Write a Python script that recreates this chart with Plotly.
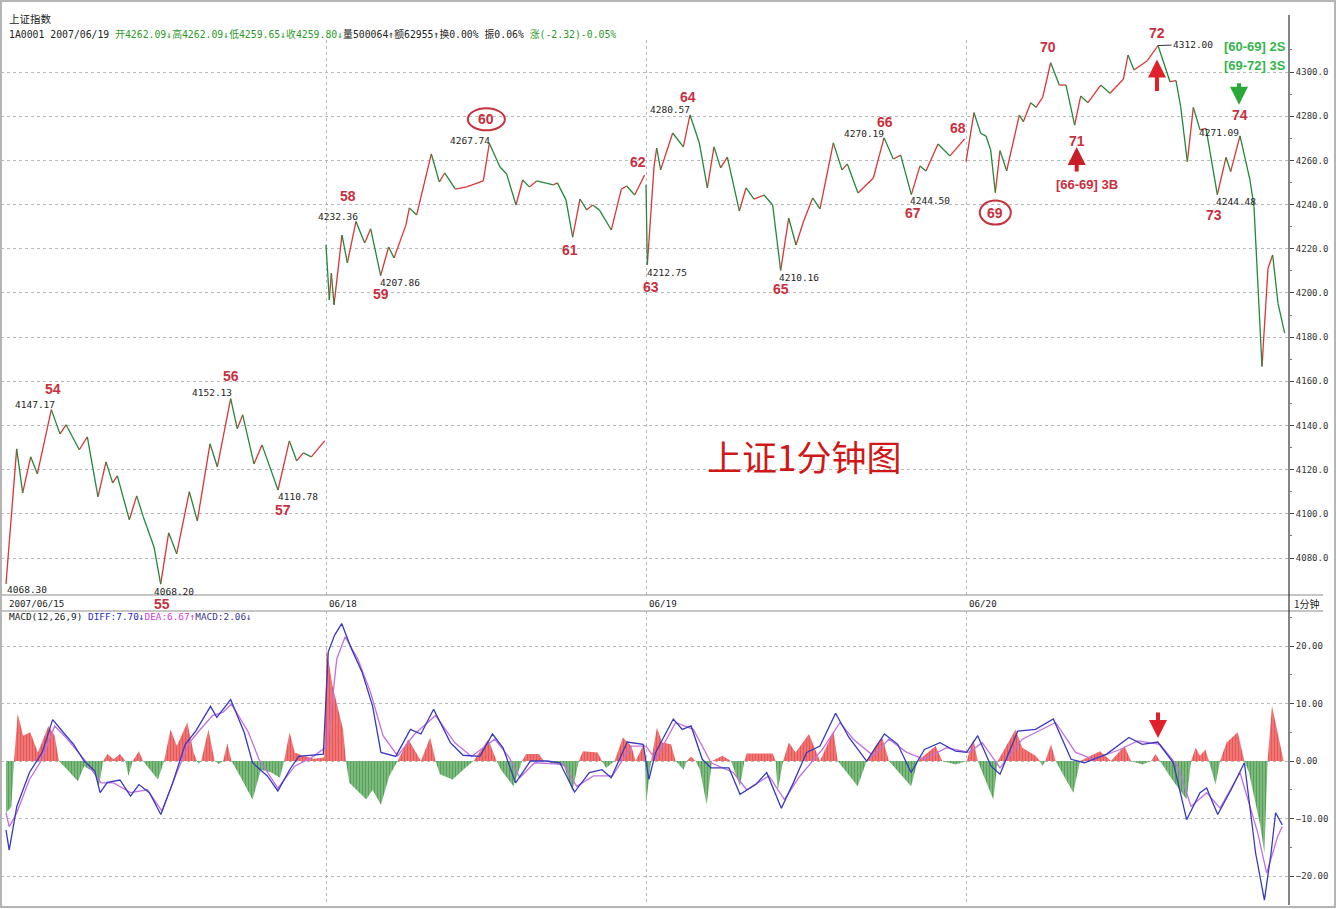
import plotly.graph_objects as go

# ---------------- data ----------------
day_labels = ["2007/06/15", "06/18", "06/19", "06/20"]
day_start_minute = [0, 240, 480, 720]

# 1-minute close, sampled at turning points (minute index across the 4 sessions)
m_0615 = [0, 8, 12.5, 18.5, 23.5, 34, 40.5, 45, 55, 61, 69, 75, 80, 83.5, 92.5, 98, 103, 111, 116, 122,
          128, 137.5, 143.5, 153, 158.5, 168.5, 173.5, 177.5, 186, 192, 204, 212.5, 218, 223, 229, 239]
p_0615 = [4068.30, 4129.4, 4109.5, 4125.8, 4118.1, 4147.17, 4136.2, 4140.3, 4129.0, 4134.8, 4107.7, 4123.5,
          4114.0, 4117.2, 4097.3, 4108.1, 4098.6, 4085.0, 4068.20, 4091.4, 4081.9, 4110.0, 4096.8, 4131.7,
          4121.3, 4152.13, 4138.5, 4144.8, 4122.6, 4131.2, 4110.78, 4133.0, 4124.0, 4127.6, 4125.8, 4133.0]

m_0618 = [240, 242.5, 244, 246, 252, 256, 262.5, 269, 273.5, 281, 287, 291, 300, 302.5, 308, 319, 325, 329,
          337, 345.5, 358, 362.5, 370.5, 375.5, 382.5, 387.5, 392.5, 398, 410.5, 413.5, 420, 425, 430.5,
          435.5, 440, 445, 454, 461.5, 465.5, 471.5, 479]
p_0618 = [4221.7, 4196.8, 4209.0, 4194.6, 4226.2, 4213.6, 4232.36, 4222.6, 4229.0, 4207.86, 4220.8, 4215.8,
          4230.8, 4238.5, 4235.3, 4262.9, 4250.2, 4254.3, 4247.0, 4248.0, 4250.7, 4267.74, 4257.0, 4253.8,
          4239.8, 4251.1, 4248.0, 4250.7, 4248.9, 4249.8, 4242.1, 4225.3, 4242.5, 4237.6, 4239.8, 4237.6,
          4228.5, 4247.0, 4248.4, 4244.3, 4253.4]

m_0619 = [480, 481, 486, 488, 491, 500, 508, 513, 520, 526, 531, 536, 541, 550, 555, 561, 568.5, 575, 581,
          587, 592.5, 598, 605, 610.5, 620.5, 627, 631, 639, 650.5, 658.5, 665.5, 671, 679, 685.5, 690, 699,
          708, 719]
p_0619 = [4249.0, 4212.75, 4257.0, 4265.6, 4255.7, 4272.4, 4266.1, 4280.57, 4267.9, 4247.5, 4266.1, 4256.6,
          4261.5, 4237.1, 4247.5, 4242.5, 4244.3, 4239.8, 4210.16, 4233.9, 4221.7, 4232.1, 4243.0, 4238.0,
          4267.9, 4255.7, 4258.4, 4245.2, 4252.0, 4270.19, 4260.6, 4262.4, 4244.50, 4257.5, 4255.2, 4267.4,
          4262.0, 4269.7]

m_0620 = [720, 726, 731, 735, 738.5, 742, 745.5, 750.5, 760, 763, 768.5, 772.5, 777.5, 783.5, 790, 795,
          801.5, 806, 811.5, 821, 828, 838, 841.5, 846, 856, 864, 873, 877.5, 881, 886, 890.5, 895.5, 900,
          908.5, 915, 918.5, 925.5, 933, 936, 942, 946.5, 950, 954, 959]
p_0620 = [4259.4, 4281.6, 4272.3, 4271.0, 4264.7, 4245.4, 4264.4, 4255.3, 4280.5, 4277.5, 4286.1, 4284.0,
          4288.5, 4304.2, 4294.1, 4294.1, 4276.0, 4289.1, 4286.1, 4294.1, 4290.4, 4296.7, 4307.7, 4300.9,
          4305.1, 4312.00, 4295.6, 4296.1, 4284.3, 4259.4, 4284.0, 4273.8, 4274.5, 4244.48, 4261.4, 4254.9,
          4271.09, 4251.1, 4239.0, 4166.7, 4211.2, 4217.2, 4195.3, 4181.8]

# MACD(12,26,9) histogram
hist_m = [0, 4, 6, 8.8, 12.9, 18.2, 23.9, 31.8, 36.5, 39.7, 46, 53.9, 58.6, 66.5, 69.7, 72.9, 76, 80.7, 85.5,
          89.6, 91.8, 95, 99.7, 102.8, 113.9, 118.6, 123.4, 128.1, 136, 140.7, 143.2, 144.5, 146.4, 151.8,
          156.5, 159.7, 162.8, 166, 169.1, 175.5, 184.9, 191.2, 199.1, 205.4, 208.6, 212.7, 216.5, 222.8,
          230.7, 238.6, 240.5, 244.9, 248, 252.8, 255, 257.5, 270.2, 274.9, 281.2, 287.5, 293.8, 301.7,
          311.2, 318.1, 322.2, 325.4, 334.9, 345.9, 350.7, 361.7, 368, 371.2, 380.6, 387, 390.1, 399.6,
          403.4, 418.5, 424.8, 429.6, 432.7, 443.8, 447, 450.1, 456.4, 462.7, 469, 472.2, 478.5, 479.2,
          480, 483.8, 488.2, 492.2, 498.8, 502.2, 508.2, 510.5, 513.8, 517.2, 520.5, 525.5, 529.5, 537.2,
          543.8, 550.5, 553.8, 555.5, 575, 577.2, 578.8, 582.8, 587.2, 592.2, 602.2, 610.5, 620.5, 623.8,
          638.8, 645.5, 652.2, 657.2, 662.2, 678.8, 683.8, 697.2, 702.2, 712.2, 720.5, 725.5, 728.8, 740.5,
          743.8, 757.2, 762.2, 772.2, 775.5, 777.2, 779.5, 783.8, 787.2, 800.5, 805.5, 820.5, 828.8, 838.8,
          843.8, 852.2, 858.8, 862.2, 865.5, 875.5, 885.5, 888.8, 892.2, 895.5, 899.5, 902.2, 907.2, 910.5,
          915.5, 923.8, 928.8, 932.2, 940.5, 943.8, 946.2, 949.5, 955.5, 958.2]
hist_v = [-9, -8, 0, 8.2, 4.4, 5, 1.5, 6.1, 4.4, 0, -1.5, -3.5, -0.9, -2, -4.4, 0, 1.2, 0.3, 1.2,
          0, -2.6, 0, 1.7, 0, -3.2, 0, 5.5, 2.6, 6.7, 1.5, 0, -0.5, 0, 5.5,
          0, -0.5, 0, 3.1, 0, -2.6, -6.7, -1.5, -2, -2.9, 0, 5, 1.5, 0.9,
          0.4, 0.6, 19.5, 13.1, 10.2, 5.5, 0, -3.8, -6.7, -5, -7.6, -2.6, 0, 3.8,
          0, 4.1, 0, -2.3, -3.2, -0.9, 0, 3.8, 0, -1.5, -4.4, 0, 1.2, 1.2,
          0, -0.9, -5.2, 0, 1.7, 1.5, 0, -1.2, 0, 4.1, 2.6, 0, 3, 0,
          -7.6, 0, 5.8, 3.2, 2.9, 0, -1.5, 0, 0.8, 0, -1.5, -7.6, 0, 0.9,
          0, -4.4, 0, 1.3, 1.3, 0, -5.2, 0, 3.2, 1.5, 4.7, 0, 5.2, 0,
          -4.4, 0, 2.6, 4.1, 0, -4.4, 0, 2.6, 0, -0.6, 0, 3.8, 0, -6.7,
          0, 5.5, 2.3, 0.9, 0, -0.9, 0, 2.9, 0, -5.5, 0, 1.7, 0, 2.6,
          0, -0.6, 0, 1.2, 0, -3.5, -6.7, 0, 2.3, 0.9, 2, 0, -4.1, 0,
          3.2, 5, 0, -2, -11, -16, 0, 9.6, 2.6, 0]

diff_m = [0, 2.4, 8.1, 17.6, 27.1, 35, 42.9, 50.7, 58.6, 66.5, 70.6, 76, 85.5, 93.4, 99.7, 107.6, 116.1, 125,
          134.4, 142.3, 153.4, 158.1, 168.5, 178.6, 184.9, 196, 203.9, 213.3, 219.6, 229.1, 238, 241.7, 246.5,
          251.8, 259.1, 267, 274.9, 281.2, 292.3, 303.3, 311.2, 320.7, 333.3, 342.8, 355.4, 364.9, 372.8,
          382.2, 393.3, 405.9, 415.4, 426.4, 437.5, 447, 453.9, 465.9, 477.9, 482.2, 487.2, 500.5, 507.2,
          513.8, 522.2, 528.8, 542.2, 550.5, 562.2, 570.5, 581.5, 590.5, 600.5, 610.5, 622.2, 632.2, 645.5,
          658.8, 668.8, 678.8, 688.8, 700.5, 712.2, 720.5, 728.8, 738.8, 745.5, 758.8, 772.2, 785.5, 798.8,
          808.8, 825.5, 842.2, 852.2, 863.8, 875.5, 885.5, 895.5, 900.5, 908.8, 918.8, 928.8, 937.2, 943.8,
          948.8, 952.2, 957.2]
diff_v = [-12, -15.5, -7.9, -2.0, 1.5, 7.2, 5.0, 2.9, 0, -1.7, -5.5, -3.7, -3.3, -6.1, -4.1, -5.5, -9.3, -3.8,
          2.9, 5.2, 9.5, 7.6, 10.7, 5.0, -0.3, -2.6, -5.2, -1.3, 0.8, 1.0, 1.2, 19, 21.9,
          23.9, 19.5, 15.5, 9.6, 1.5, 0.8, 5.5, 4.7, 9.0, 3.2, 1.0, 0.8, 4.7, 2.3,
          -3.8, 0, 0, -0.3, -5.4, -2.0, -1.5, -2.9, 3.3, 2.9, -3.2, 1.5, 7.3, 5.5,
          6.1, 0.3, -1.2, -1.2, -5.8, -4.1, -2.0, -8.2, -3.8, 1.5, 2.6, 8.3, 4.1, 0,
          4.7, 2.9, -2.0, 2.0, 3.2, 1.7, 1.5, 4.4, -0.9, -2.3, 5.2, 5.5, 7.3, 0.3,
          -0.3, 1.2, 4.1, 2.9, 3.3, -0.3, -10.2, -5.5, -4.7, -9.3, -5.0, -0.3, -16, -24.2,
          -16, -9, -11.1]

dea_m = [0, 2.4, 8.1, 17.6, 27.1, 36.5, 46, 58.6, 71.3, 80.7, 93.4, 106, 117, 128.1, 137.6, 143.9, 154.9, 162.8,
         169.1, 181.8, 189.7, 203.9, 216.5, 229.1, 241.1, 248.1, 254.4, 263.8, 273.3, 282.8, 293.8, 306.5,
         322.2, 336.5, 349.1, 366.5, 377.5, 385.4, 396.4, 418.5, 428, 440.6, 454.8, 469, 480, 487.2, 502.2,
         515.5, 528.8, 545.5, 555.5, 572.2, 583.8, 595.5, 612.2, 625.5, 635.5, 650.5, 662.2, 675.5, 688.8,
         705.5, 722.2, 732.2, 745.5, 762.2, 787.2, 802.2, 815.5, 835.5, 848.8, 865.5, 878.8, 888.8, 900.5,
         910.5, 925.5, 938.8, 945.5, 953.8, 957.2]
dea_v = [-9, -11.4, -9, -3.2, 0.3, 6.1, 3.8, 0.3, -3.8, -3.8, -5.5, -5, -8.7, -2, 3.2, 5, 7.9, 8.5,
         9.9, 5, 0.3, -4.7, -0.9, 0.6, 2.6, 17.8, 21.6, 17.8, 12, 4.4, 0.9, 4.7,
         7.9, 3.2, 0.8, 3.8, 0.6, -2.9, -0.3, -0.6, -4.4, -2.6, -2.6, 2.6, 2.6, 0.3, 6.7,
         5.5, -0.3, -2, -5, -2.6, -6.7, -2.6, 2, 6.7, 3.8, 0.9, 3.8, 1.5, 0.3,
         2.3, 1.5, 3.2, -1.2, 3.8, 6.7, 1.5, 0.3, 2, 3.5, 2.9, -0.9, -7.9, -5.5,
         -8.2, -2, -12.5, -19.5, -13.1, -11.4]

# wave pivots: number, minute, price, printed value
wave_names = ["54", "55", "56", "57", "58", "59", "60", "61", "62", "63", "64", "65", "66", "67", "68",
              "69", "70", "71", "72", "73", "74"]
wave_minutes = [34, 116, 168.5, 204, 262.5, 281, 362.5, 425, 479, 481, 513, 581, 658.5, 679, 719,
                742, 783.5, 801.5, 864, 908.5, 925.5]
wave_prices = [4147.17, 4068.20, 4152.13, 4110.78, 4232.36, 4207.86, 4267.74, 4225.3, 4253.4, 4212.75,
               4280.57, 4210.16, 4270.19, 4244.50, 4269.7, 4245.4, 4304.2, 4276.0, 4312.00, 4244.48, 4271.09]
wave_value_text = ["4147.17", "4068.20", "4152.13", "4110.78", "4232.36", "4207.86", "4267.74", None, None,
                   "4212.75", "4280.57", "4210.16", "4270.19", "4244.50", None, None, None, None, "4312.00",
                   "4244.48", "4271.09"]
circled_waves = ["60", "69"]

price_ticks = [4080, 4100, 4120, 4140, 4160, 4180, 4200, 4220, 4240, 4260, 4280, 4300]
macd_ticks = [-20, -10, 0, 10, 20]

# ---------------- styling / layout helpers ----------------
W, H = 1337, 909
L, R, T, B = 1, 48, 15, 4
PW, PH = W - L - R, H - T - B


def paper(px, py):
    return ((px - L) / PW, (H - B - py) / PH)


RED = "#d93636"
GREEN = "#23883a"
WAVE_RED = "#c8303f"
MONO = "DejaVu Sans Mono, Noto Sans CJK SC, monospace"

# label offsets in pixels (dx, dy, screen: +dy down) for wave numbers and values
num_off = {"54": (2, -21), "55": (1, 20), "56": (0, -23), "57": (5, 20), "58": (-8, -25), "59": (0, 18),
           "60": (-3, -24), "61": (-3, 13), "62": (-7, -13), "63": (4, 22), "64": (-2, -18), "65": (0, 19),
           "66": (1, -16), "67": (2, 18), "68": (-7, -11), "69": (0, 20), "70": (-3, -16), "71": (2, 16),
           "72": (-1, -12), "73": (-3, 20), "74": (0, -21)}
val_off = {"54": (-16, -5), "55": (13, 7), "56": (-19, -6), "57": (20, 7), "58": (-18, -5), "59": (19, 7),
           "60": (-19, -3), "63": (20, 8), "64": (-20, -5), "65": (18, 7), "66": (-20, -4), "67": (19, 6),
           "73": (19, 7), "74": (-21, -3)}

fig = go.Figure()

# price line: rising segments red, falling green
rx, ry, gx, gy = [], [], [], []
for ms, ps in [(m_0615, p_0615), (m_0618, p_0618), (m_0619, p_0619), (m_0620, p_0620)]:
    for i in range(len(ms) - 1):
        if ps[i + 1] >= ps[i]:
            rx += [ms[i], ms[i + 1], None]
            ry += [ps[i], ps[i + 1], None]
        else:
            gx += [ms[i], ms[i + 1], None]
            gy += [ps[i], ps[i + 1], None]
fig.add_trace(go.Scatter(x=rx, y=ry, mode="lines", line=dict(color=RED, width=1.3),
                         xaxis="x", yaxis="y", hoverinfo="skip"))
fig.add_trace(go.Scatter(x=gx, y=gy, mode="lines", line=dict(color=GREEN, width=1.3),
                         xaxis="x", yaxis="y", hoverinfo="skip"))

# MACD histogram as filled areas with vertical bar stripes
assert len(hist_m) == len(hist_v), (len(hist_m), len(hist_v))
assert len(diff_m) == len(diff_v), (len(diff_m), len(diff_v))
assert len(dea_m) == len(dea_v), (len(dea_m), len(dea_v))
pos = [max(v, 0) for v in hist_v]
neg = [min(v, 0) for v in hist_v]
fig.add_trace(go.Scatter(x=hist_m, y=pos, mode="lines", fill="tozeroy", line=dict(width=0, color=RED),
                         fillcolor="rgb(236,80,80)",
                         fillpattern=dict(shape="|", fgcolor="rgb(222,44,44)", bgcolor="rgb(242,130,130)",
                                          size=3, solidity=0.55),
                         xaxis="x2", yaxis="y2", hoverinfo="skip"))
fig.add_trace(go.Scatter(x=hist_m, y=neg, mode="lines", fill="tozeroy", line=dict(width=0, color=GREEN),
                         fillcolor="rgb(60,145,60)",
                         fillpattern=dict(shape="|", fgcolor="rgb(36,125,40)", bgcolor="rgb(140,195,140)",
                                          size=3, solidity=0.55),
                         xaxis="x2", yaxis="y2", hoverinfo="skip"))
fig.add_trace(go.Scatter(x=dea_m, y=dea_v, mode="lines", line=dict(color="#c070e0", width=1.3),
                         xaxis="x2", yaxis="y2", hoverinfo="skip"))
fig.add_trace(go.Scatter(x=diff_m, y=diff_v, mode="lines", line=dict(color="#3838c0", width=1.3),
                         xaxis="x2", yaxis="y2", hoverinfo="skip"))

ann = []
shapes = []

# wave numbers and price labels
for name, m, p, vt in zip(wave_names, wave_minutes, wave_prices, wave_value_text):
    dx, dy = num_off[name]
    ann.append(dict(x=m, y=p, xref="x", yref="y", text="<b>%s</b>" % name, showarrow=False,
                    xanchor="center", yanchor="middle",
                    xshift=dx, yshift=-dy, font=dict(family="Liberation Sans, Arial", size=14, color=WAVE_RED)))
    if name in circled_waves:
        w, h = (37, 22) if name == "60" else (31, 24)
        shapes.append(dict(type="circle", xref="x", yref="y", xsizemode="pixel", ysizemode="pixel",
                           xanchor=m, yanchor=p, x0=dx - w / 2, x1=dx + w / 2, y0=-dy - h / 2, y1=-dy + h / 2,
                           line=dict(color=WAVE_RED, width=2)))
    if vt and name in val_off:
        vx, vy = val_off[name]
        ann.append(dict(x=m, y=p, xref="x", yref="y", text=vt, showarrow=False, xshift=vx, yshift=-vy,
                        xanchor="center", yanchor="middle",
                        font=dict(family=MONO, size=9.5, color="#1e1e1e")))
    elif vt:  # 4312.00 with leader line
        ann.append(dict(x=m, y=p, xref="x", yref="y", text=vt, showarrow=True, ax=35, ay=-1,
                        arrowhead=0, arrowwidth=1, arrowcolor="#333", standoff=0,
                        font=dict(family=MONO, size=9.5, color="#1e1e1e")))
# opening low label
ann.append(dict(x=m_0615[0], y=p_0615[0], xref="x", yref="y", text="%.2f" % p_0615[0], showarrow=False,
                xanchor="center", yanchor="middle",
                xshift=21, yshift=-6, font=dict(family=MONO, size=9.5, color="#1e1e1e")))

# signal arrows
i71 = wave_names.index("71")
i72 = wave_names.index("72")
i74 = wave_names.index("74")
ann.append(dict(x=wave_minutes[i71], y=wave_prices[i71], xref="x", yref="y", text="", showarrow=True,
                xshift=2, yshift=-22, ax=0, ay=26, arrowhead=2, arrowsize=0.9, arrowwidth=4, arrowcolor="#c81e28"))
ann.append(dict(x=wave_minutes[i71], y=wave_prices[i71], xref="x", yref="y", text="<b>[66-69] 3B</b>",
                showarrow=False, xshift=12, yshift=-59, xanchor="center", yanchor="middle",
                font=dict(family="Liberation Sans, Arial", size=13, color=WAVE_RED)))
ann.append(dict(x=wave_minutes[i72], y=wave_prices[i72], xref="x", yref="y", text="", showarrow=True,
                xshift=-1, yshift=-14, ax=0, ay=33, arrowhead=2, arrowsize=0.9, arrowwidth=4, arrowcolor="#e0202a"))
ann.append(dict(x=wave_minutes[i74], y=wave_prices[i74], xref="x", yref="y", text="", showarrow=True,
                xshift=-1, yshift=31, ax=0, ay=-23, arrowhead=2, arrowsize=0.9, arrowwidth=4, arrowcolor="#2aa83a"))
ann.append(dict(x=wave_minutes[i72], y=4.0, xref="x2", yref="y2", text="", showarrow=True,
                ax=0, ay=-27, arrowhead=2, arrowsize=0.9, arrowwidth=4, arrowcolor="#e0202a"))


def paper_text(px, py, text, font, xanchor="left"):
    xa, ya = paper(px, py)
    ann.append(dict(x=xa, y=ya, xref="paper", yref="paper", xanchor=xanchor, yanchor="middle",
                    text=text, showarrow=False, font=font))


paper_text(1288, 47, "<b>[60-69] 2S</b>", dict(family="Liberation Sans, Arial", size=13, color="#36b44c"),
           xanchor="right")
paper_text(1288, 66, "<b>[69-72] 3S</b>", dict(family="Liberation Sans, Arial", size=13, color="#36b44c"),
           xanchor="right")

# big title in the chart
paper_text(804, 455, "上证1分钟图", dict(family="Noto Sans CJK SC", size=35, color="#d01818"), xanchor="center")

# header lines
paper_text(7, 19, "上证指数", dict(family="Noto Sans CJK SC", size=10.5, color="#222"))
hdr = ("1A0001 2007/06/19 "
       "<span style='color:#2a9a2a'>开4262.09↓高4262.09↓低4259.65↓收4259.80↓</span>"
       "量500064↑额62955↑换0.00% 振0.06% "
       "<span style='color:#2a9a2a'>涨(-2.32)-0.05%</span>")
paper_text(7, 34, hdr, dict(family=MONO, size=9.8, color="#222"))
mh = ("MACD(12,26,9) <span style='color:#2828c8'>DIFF:7.70↓</span>"
      "<span style='color:#d040d0'>DEA:6.67↑</span><span style='color:#3a3a8c'>MACD:2.06↓</span>")
paper_text(7, 616, mh, dict(family=MONO, size=9.4, color="#222"))

# date labels
yl = paper(0, 603)[1]
for lab, m in zip(day_labels, day_start_minute):
    ann.append(dict(x=m, y=yl, xref="x", yref="paper", xanchor="left", yanchor="middle", xshift=1, text=lab,
                    showarrow=False, font=dict(family=MONO, size=9.2, color="#222")))
paper_text(1292, 603, "1分钟", dict(family="Noto Sans CJK SC", size=10, color="#222"))

# frame lines
x0p = paper(0, 0)[0]
x1p = paper(1323, 0)[0]
for py in (595, 611):
    yp = paper(0, py)[1]
    shapes.append(dict(type="line", xref="paper", yref="paper", x0=x0p, x1=x1p, y0=yp, y1=yp,
                       line=dict(color="#8c8c8c", width=1)))
shapes.append(dict(type="line", xref="paper", yref="paper", x0=1, x1=1, y0=0, y1=1,
                   line=dict(color="#333", width=1.2)))
bx0, by0 = paper(1, 907)
bx1, by1 = paper(1335, 1)
shapes.append(dict(type="rect", xref="paper", yref="paper", x0=bx0, x1=bx1, y0=by0, y1=by1,
                   line=dict(color="#b4b4b4", width=2)))

price_dom = [paper(0, 595)[1], paper(0, 40)[1]]
macd_dom = [0, paper(0, 611)[1]]

xr = [-3.75, 962.25]
axis_common = dict(range=xr, tickvals=day_start_minute[1:], showticklabels=False, showgrid=True,
                   griddash="dot", gridcolor="#b8b8b8", gridwidth=1, zeroline=False, ticks="", showline=False)

fig.update_layout(
    width=W, height=H, autosize=False,
    margin=dict(l=L, r=R, t=T, b=B),
    paper_bgcolor="white", plot_bgcolor="white",
    showlegend=False,
    xaxis=dict(domain=[0, 1], anchor="y", **axis_common),
    xaxis2=dict(domain=[0, 1], anchor="y2", matches="x", **axis_common),
    yaxis=dict(domain=price_dom, anchor="x", side="right", range=[4063.25, 4314.49],
               tickvals=price_ticks, tickformat=".1f", showgrid=True, griddash="dot", gridcolor="#b8b8b8",
               zeroline=False, ticks="outside", ticklen=4, tickcolor="#444", showline=False,
               tickfont=dict(family=MONO, size=9, color="#333"),
               minor=dict(tickvals=[v + 10 for v in price_ticks], ticks="outside", ticklen=2, tickcolor="#777",
                          showgrid=False)),
    yaxis2=dict(domain=macd_dom, anchor="x2", side="right", range=[-25.04, 26.09],
                tickvals=macd_ticks, tickformat=".2f", showgrid=True, griddash="dot", gridcolor="#b8b8b8",
                zeroline=False, ticks="outside", ticklen=4, tickcolor="#444", showline=False,
                tickfont=dict(family=MONO, size=9, color="#333"),
                minor=dict(tickvals=[v + 5 for v in macd_ticks], ticks="outside", ticklen=2, tickcolor="#777",
                           showgrid=False)),
    separators=".,",
    annotations=ann,
    shapes=shapes,
)

fig.write_html("out.html", config={"displayModeBar": False},
               post_script="document.body.style.margin='0px';document.body.style.overflow='hidden';")
